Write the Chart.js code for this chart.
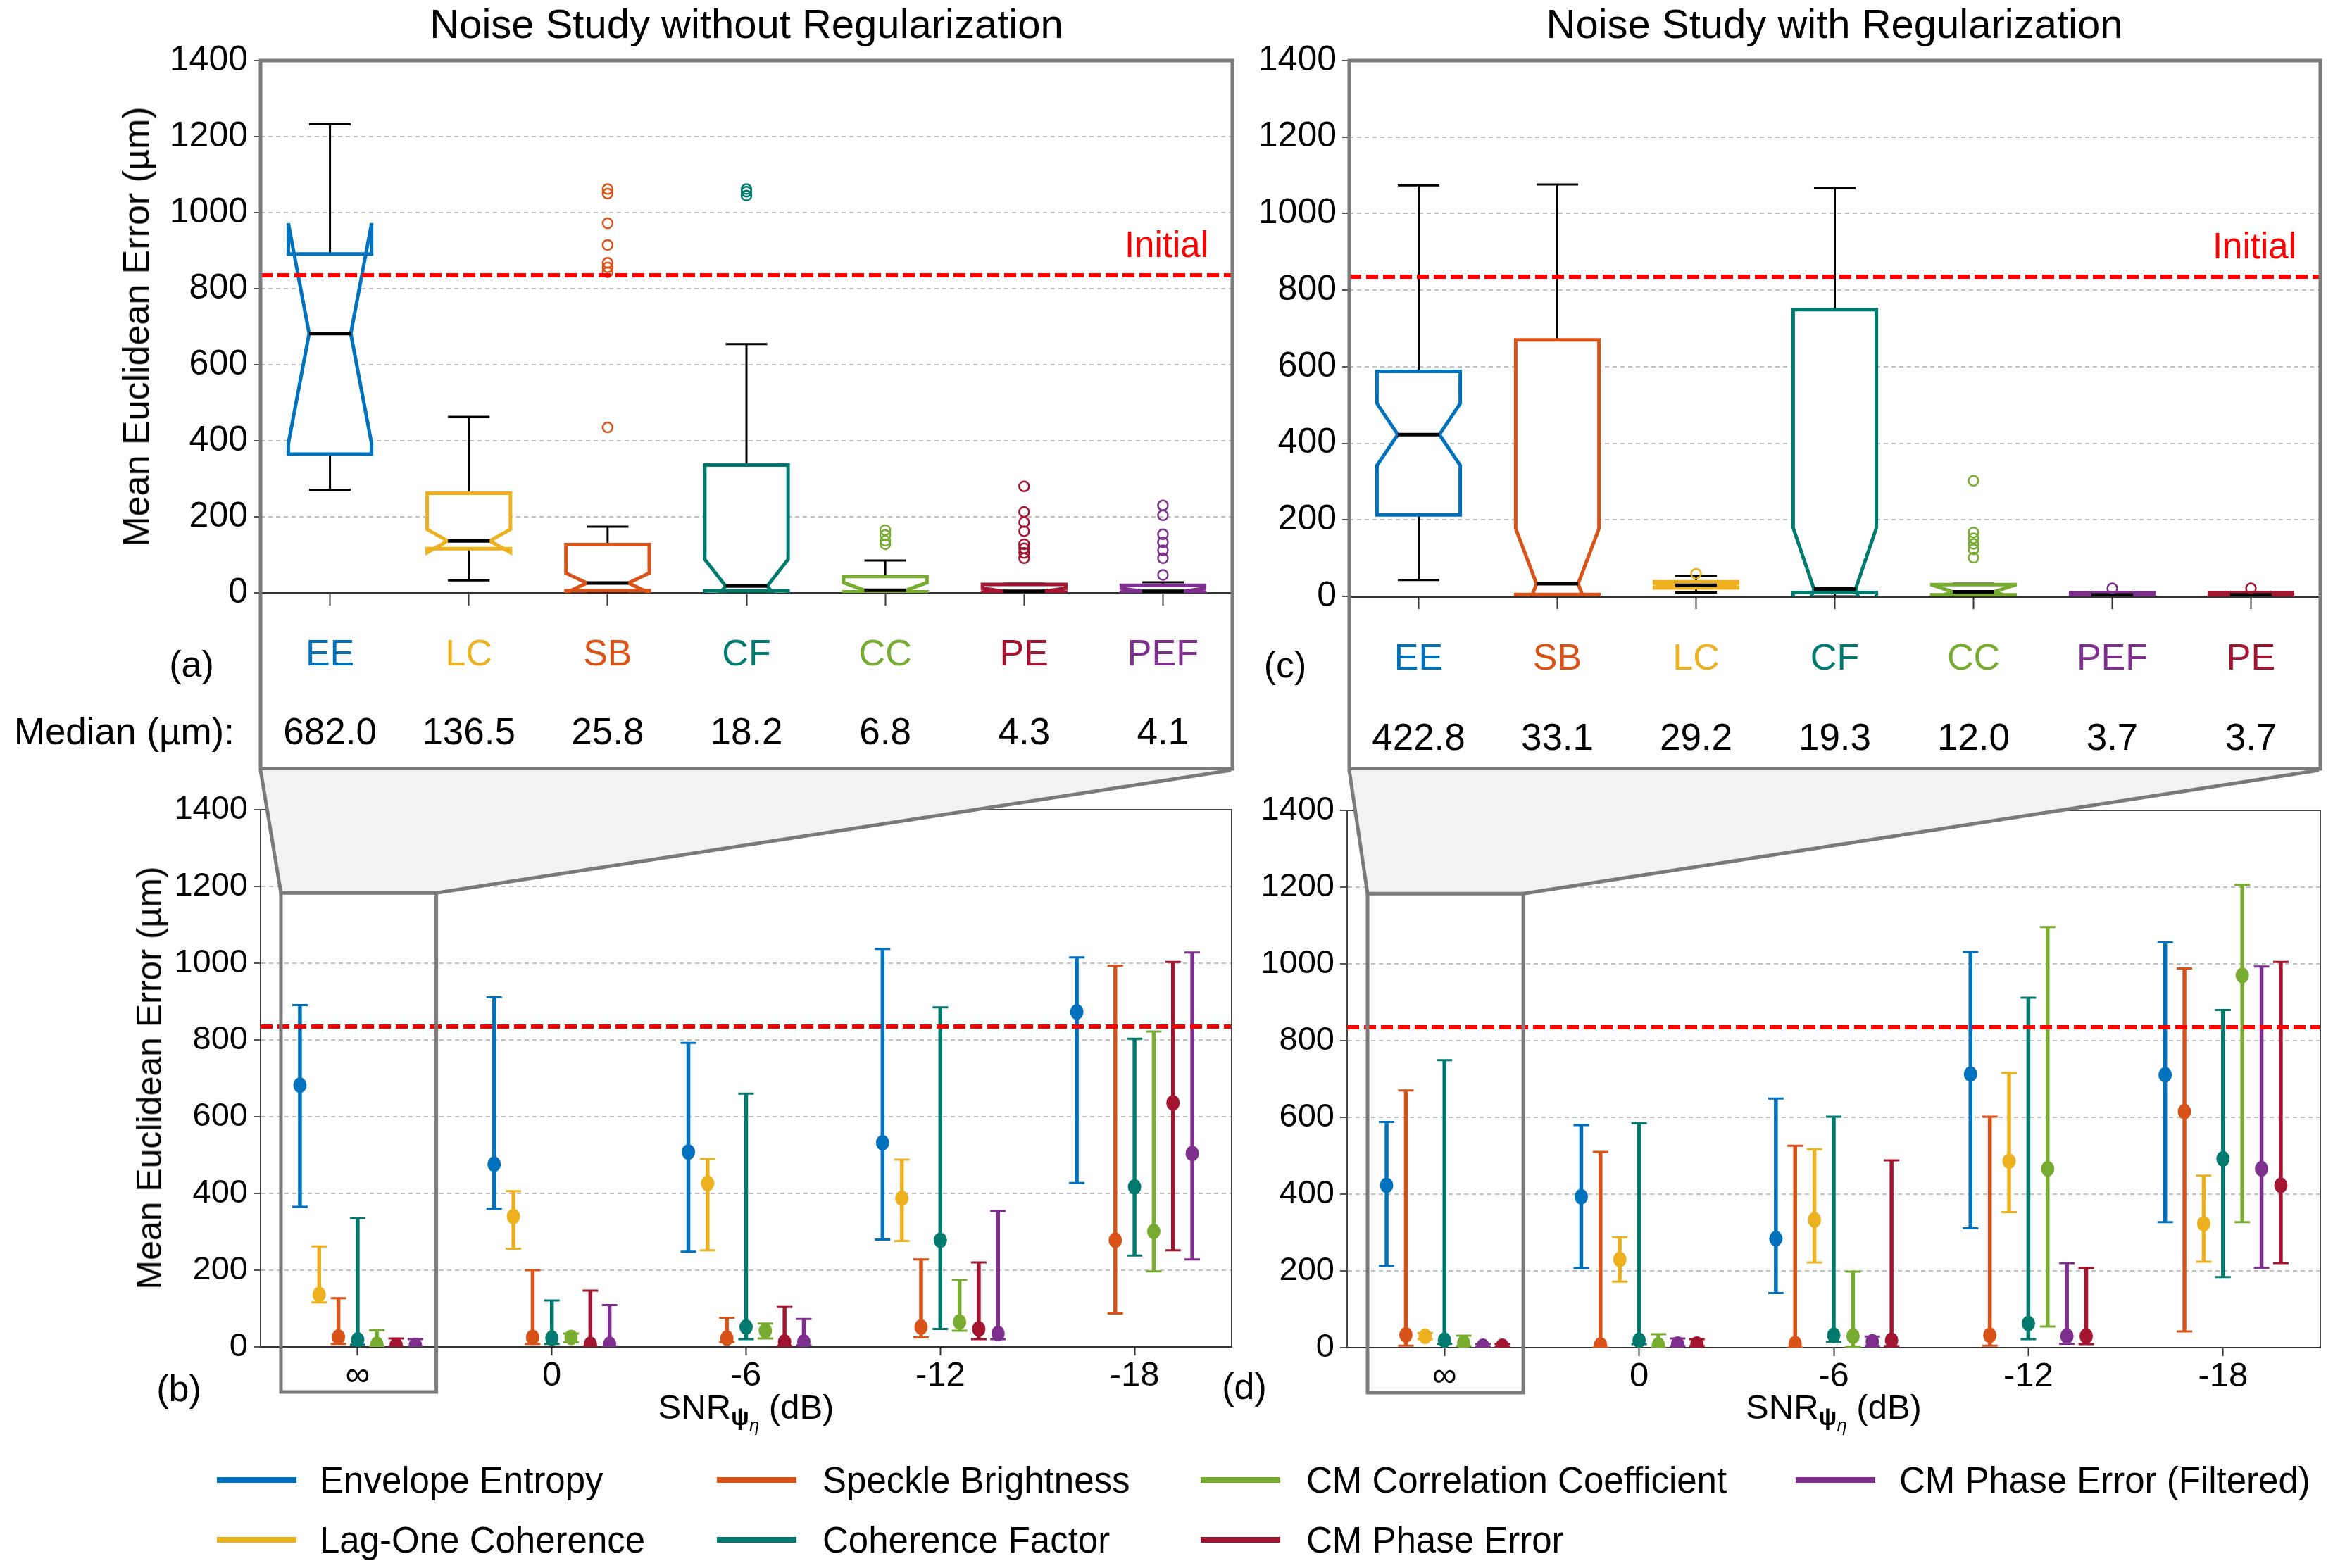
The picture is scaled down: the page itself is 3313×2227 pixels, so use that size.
<!DOCTYPE html>
<html>
<head>
<meta charset="utf-8">
<script src="https://cdn.jsdelivr.net/npm/chart.js"></script>
<style>
html,body{margin:0;padding:0;background:#fff;}
#root{position:relative;width:3313px;height:2227px;overflow:hidden;font-family:"Liberation Sans",Arial,Helvetica,sans-serif;color:#000;background:#fff;}
#root canvas{position:absolute;}
.t{position:absolute;white-space:nowrap;line-height:1;transform:translate(-50%,-50%);}
.r{position:absolute;white-space:nowrap;line-height:1;transform:translate(-100%,-50%);}
.l{position:absolute;white-space:nowrap;line-height:1;transform:translate(0,-50%);}
.rot{position:absolute;white-space:nowrap;line-height:1;transform:translate(-50%,-50%) rotate(-90deg);}
.sw{position:absolute;height:8px;transform:translate(0,-50%);}
</style>
</head>
<body>
<div id="root">
<canvas id="cA" width="1760" height="1100" style="left:0px;top:0px;width:1760px;height:1100px"></canvas>
<canvas id="cC" width="1553" height="1100" style="left:1760px;top:0px;width:1553px;height:1100px"></canvas>
<canvas id="cB" width="1760" height="1000" style="left:0px;top:1085px;width:1760px;height:1000px"></canvas>
<canvas id="cD" width="1553" height="1000" style="left:1760px;top:1085px;width:1553px;height:1000px"></canvas>
</div>
<script>
// ---------------- DATA ----------------
const seriesKeys   = ['EE','LC','SB','CF','CC','PE','PEF'];
const seriesNames  = ['Envelope Entropy','Lag-One Coherence','Speckle Brightness','Coherence Factor','CM Correlation Coefficient','CM Phase Error','CM Phase Error (Filtered)'];
const seriesColors = ['#0072BD','#EDB120','#D95319','#007A6E','#77AC30','#A2142F','#7E2F8E'];
const initialError = 835;
const snrLabels = ['\u221E','0','-6','-12','-18'];

// Panel (a): Noise study without regularization (box plots)
const orderA    = ['EE','LC','SB','CF','CC','PE','PEF'];
const medianA   = [682.0,136.5,25.8,18.2,6.8,4.3,4.1];
const q1A       = [365,116,6,5,3,2,2];
const q3A       = [891,262,127,336,43,22,20];
const notchLoA  = [392,106,0,-52,-13,-4,-4];
const notchHiA  = [972,167,52,88,27,12,12];
const whiskLoA  = [271,33,0,0,0,0,0];
const whiskHiA  = [1233,463,174,654,85,24,28];
const outliersA = [[],[],[435,843,856,868,915,972,1050,1062],[1045,1055,1062],[128,137,152,165],[91,105,117,128,162,186,213,280],[47,91,112,133,154,204,230]];

// Panel (c): Noise study with regularization (box plots)
const orderC    = ['EE','SB','LC','CF','CC','PEF','PE'];
const medianC   = [422.8,33.1,29.2,19.3,12.0,3.7,3.7];
const q1C       = [213,5,22,10,4,1,1];
const q3C       = [588,670,38,749,31,9,9];
const notchLoC  = [342,-111,24,-141,-6,0,0];
const notchHiC  = [504,177,34,179,30,8,8];
const whiskLoC  = [43,0,10,0,0,0,0];
const whiskHiC  = [1074,1076,54,1067,33,12,12];
const outliersC = [[],[],[59],[],[101,123,137,152,167,302],[21],[21]];

// Panel (b): median and IQR per SNR (rows follow seriesKeys)
const medB = [[682,476,508,532,873],[136.5,340,426,387,null],[25.8,25,23,52,278],[18.2,23,52,278,417],[6.8,25,42,65,301],[4.3,7,13,47,636],[4.1,7,13,35,504]];
const loB  = [[365,360,248,280,427],[116,256,252,276,null],[8,8,13,25,87],[6,8,20,47,238],[2,12,22,42,197],[1,1,3,20,252],[1,1,4,20,228]];
const hiB  = [[891,911,792,1037,1015],[262,406,490,488,null],[127,200,76,228,993],[336,121,660,885,803],[43,35,61,175,822],[22,147,104,220,1003],[20,109,73,354,1028]];

// Panel (d): median and IQR per SNR (rows follow seriesKeys)
const medD = [[422.8,393,284,713,711],[29.2,230,333,486,323],[33.1,7,10,32,615],[19.3,19,32,63,492],[12,7,30,466,970],[3.7,9,19,30,423],[3.7,9,15,30,466]];
const loD  = [[213,207,142,311,327],[22,172,222,353,224],[5,0,0,5,42],[10,9,15,22,184],[4,0,2,55,327],[1,4,4,9,220],[1,4,4,10,208]];
const hiD  = [[588,580,649,1031,1056],[38,287,517,716,448],[670,510,526,602,988],[749,585,602,912,880],[31,35,198,1096,1206],[9,22,488,207,1005],[9,24,29,220,993]];

// ---------------- LAYOUT ----------------
const geoA = {left:0,    top:0,    w:1760, h:1100, plotL:370,  plotR:1750, plotT:86,   plotB:842,  frameB:1092, labPad:39};
const geoC = {left:1760, top:0,    w:1553, h:1100, plotL:1916, plotR:3295, plotT:86,   plotB:847,  frameB:1092, labPad:40};
const geoB = {left:0,    top:1085, w:1760, h:1000, plotL:370,  plotR:1749, plotT:1150, plotB:1913};
const geoD = {left:1760, top:1085, w:1553, h:1000, plotL:1913, plotR:3295, plotT:1151, plotB:1914};

Chart.defaults.font.family = '"Liberation Sans", Arial, Helvetica, sans-serif';
Chart.defaults.color = '#000';
Chart.defaults.animation = false;

const root = document.getElementById('root');
function addText(cls, x, y, size, html, extra) {
  const d = document.createElement('div');
  d.className = cls;
  d.style.left = x + 'px'; d.style.top = y + 'px'; d.style.fontSize = size + 'px';
  if (extra) Object.assign(d.style, extra);
  d.innerHTML = html;
  root.appendChild(d);
  return d;
}
function colorOf(k) { return seriesColors[seriesKeys.indexOf(k)]; }

function yScaleOpts(fontSize, axisWidth) {
  return {
    min: 0, max: 1400,
    ticks: { stepSize: 200, font: { size: fontSize }, color: '#000', padding: 8, callback: v => String(v) },
    grid: { color: '#c2c2c2', lineWidth: 2, tickLength: 10, tickColor: '#555', tickWidth: 2 },
    border: { display: false, dash: [6, 5] },
    afterFit(s) { s.width = axisWidth; }
  };
}

function initialLine(chart) {
  const { ctx, chartArea: a, scales: { y } } = chart;
  const py = y.getPixelForValue(initialError);
  ctx.save();
  ctx.strokeStyle = '#FF0000'; ctx.lineWidth = 6; ctx.setLineDash([17, 7]);
  ctx.beginPath(); ctx.moveTo(a.left, py); ctx.lineTo(a.right, py); ctx.stroke();
  ctx.restore();
}

// ---------------- TOP (BOX PLOT) CHARTS ----------------
function makeTop(id, geo, order, med, q1, q3, nlo, nhi, wlo, whi, outl) {
  const colors = order.map(colorOf);
  const boxPlugin = {
    id: 'notchBoxes',
    beforeDatasetsDraw(chart) {
      const { ctx, chartArea: a, scales: { x, y } } = chart;
      const cw = x.getPixelForValue(1) - x.getPixelForValue(0);
      const w = 0.6 * cw;
      const Y = v => y.getPixelForValue(v);
      ctx.save();
      ctx.beginPath(); ctx.rect(a.left, a.top, a.right - a.left, a.bottom - a.top); ctx.clip();
      order.forEach((k, i) => {
        const px = x.getPixelForValue(i);
        const L = px - w / 2, R = px + w / 2, cl = px - w / 4, cr = px + w / 4;
        ctx.setLineDash([]);
        ctx.strokeStyle = '#000'; ctx.lineWidth = 3;
        ctx.beginPath();
        ctx.moveTo(px, Y(q3[i])); ctx.lineTo(px, Y(whi[i]));
        ctx.moveTo(px, Y(q1[i])); ctx.lineTo(px, Y(wlo[i]));
        ctx.moveTo(cl, Y(whi[i])); ctx.lineTo(cr, Y(whi[i]));
        ctx.moveTo(cl, Y(wlo[i])); ctx.lineTo(cr, Y(wlo[i]));
        ctx.stroke();
        const xs = [L, R, R, cr, R, R, L, L, cl, L, L];
        const ys = [q1[i], q1[i], nlo[i], med[i], nhi[i], q3[i], q3[i], nhi[i], med[i], nlo[i], q1[i]];
        ctx.fillStyle = '#fff';
        ctx.strokeStyle = colors[i]; ctx.lineWidth = 5; ctx.lineJoin = 'miter';
        ctx.beginPath();
        xs.forEach((xx, j) => { const yy = Y(ys[j]); if (j === 0) ctx.moveTo(xx, yy); else ctx.lineTo(xx, yy); });
        ctx.closePath();
        ctx.fill();
        ctx.stroke();
        ctx.strokeStyle = '#000'; ctx.lineWidth = 5;
        ctx.beginPath(); ctx.moveTo(cl, Y(med[i])); ctx.lineTo(cr, Y(med[i])); ctx.stroke();
      });
      ctx.restore();
    },
    afterDatasetsDraw(chart) { initialLine(chart); },
    afterDraw(chart) {
      const { ctx, chartArea: a } = chart;
      ctx.save();
      ctx.strokeStyle = '#7a7a7a'; ctx.lineWidth = 5; ctx.setLineDash([]);
      ctx.strokeRect(a.left, a.top, a.right - a.left, (geo.frameB - geo.top) - a.top);
      ctx.restore();
    }
  };
  const datasets = order.map((k, i) => ({
    label: k + ' outliers',
    showLine: false,
    data: outl[i].map(v => ({ x: k, y: v })),
    pointStyle: 'circle', pointRadius: 7, pointBorderWidth: 2.5,
    pointBackgroundColor: 'rgba(255,255,255,0)', pointBorderColor: colors[i], borderColor: colors[i]
  }));
  return new Chart(document.getElementById(id), {
    type: 'line',
    data: { labels: order, datasets },
    options: {
      responsive: false, animation: false,
      layout: { padding: { top: geo.plotT - geo.top, right: geo.w - (geo.plotR - geo.left), left: 0, bottom: 0 } },
      plugins: { legend: { display: false }, tooltip: { enabled: false } },
      scales: {
        x: {
          type: 'category', offset: true,
          ticks: { font: { size: 52 }, padding: geo.labPad, color: c => colors[c.index] },
          grid: { display: true, drawOnChartArea: false, offset: false, tickLength: 18, tickColor: '#333', tickWidth: 2 },
          border: { display: true, color: '#333', width: 3 },
          afterFit(s) { s.height = geo.h - (geo.plotB - geo.top); }
        },
        y: yScaleOpts(50, geo.plotL - geo.left)
      }
    },
    plugins: [boxPlugin]
  });
}

// ---------------- BOTTOM (MEDIAN + IQR) CHARTS ----------------
function makeBottom(id, geo, order, med, lo, hi, topGeo) {
  const idx = order.map(k => seriesKeys.indexOf(k));
  const datasets = idx.map(s => ({
    type: 'bar',
    label: seriesNames[s],
    data: snrLabels.map((_, j) => lo[s][j] == null ? null : [lo[s][j], hi[s][j]]),
    backgroundColor: seriesColors[s], borderWidth: 0,
    barPercentage: 0.2, categoryPercentage: 0.6934,
    medianValues: med[s]
  }));
  const errPlugin = {
    id: 'errMarks',
    afterDatasetsDraw(chart) {
      const { ctx, chartArea: a, scales: { y } } = chart;
      ctx.save();
      ctx.beginPath(); ctx.rect(a.left, a.top, a.right - a.left, a.bottom - a.top); ctx.clip();
      chart.data.datasets.forEach((ds, i) => {
        const meta = chart.getDatasetMeta(i);
        meta.data.forEach((el, j) => {
          const r = ds.data[j];
          if (!r) return;
          const x = el.x;
          ctx.strokeStyle = ds.backgroundColor; ctx.lineWidth = 3; ctx.setLineDash([]);
          ctx.beginPath();
          ctx.moveTo(x - 11, y.getPixelForValue(r[0])); ctx.lineTo(x + 11, y.getPixelForValue(r[0]));
          ctx.moveTo(x - 11, y.getPixelForValue(r[1])); ctx.lineTo(x + 11, y.getPixelForValue(r[1]));
          ctx.stroke();
          ctx.fillStyle = ds.backgroundColor;
          ctx.beginPath(); ctx.ellipse(x, y.getPixelForValue(ds.medianValues[j]), 9.5, 11, 0, 0, Math.PI * 2); ctx.fill();
        });
      });
      ctx.restore();
      initialLine(chart);
    },
    afterDraw(chart) {
      const { ctx, chartArea: a, scales: { x, y } } = chart;
      ctx.save();
      ctx.setLineDash([]);
      ctx.strokeStyle = '#444'; ctx.lineWidth = 2;
      ctx.beginPath(); ctx.moveTo(a.left, a.top); ctx.lineTo(a.right, a.top); ctx.lineTo(a.right, a.bottom); ctx.stroke();
      const cw = x.getPixelForValue(1) - x.getPixelForValue(0);
      const cx = x.getPixelForValue(0);
      const rl = cx - 0.395 * cw, rr = cx + 0.405 * cw;
      const rt = y.getPixelForValue(1183), rb = a.bottom + 64;
      const tl = topGeo.plotL - geo.left, tr = topGeo.plotR - 2 - geo.left, tt = topGeo.frameB + 2 - geo.top;
      ctx.fillStyle = '#f2f2f2';
      ctx.beginPath(); ctx.moveTo(tl, tt); ctx.lineTo(tr, tt); ctx.lineTo(rr, rt); ctx.lineTo(rl, rt); ctx.closePath(); ctx.fill();
      ctx.strokeStyle = '#7a7a7a'; ctx.lineWidth = 5;
      ctx.beginPath(); ctx.moveTo(tl, tt); ctx.lineTo(rl, rt); ctx.moveTo(tr, tt); ctx.lineTo(rr, rt); ctx.stroke();
      ctx.strokeRect(rl, rt, rr - rl, rb - rt);
      ctx.restore();
    }
  };
  const yo = yScaleOpts(47, geo.plotL - geo.left);
  yo.border = { display: true, color: '#444', width: 2, dash: [6, 5] };
  return new Chart(document.getElementById(id), {
    type: 'bar',
    data: { labels: snrLabels, datasets },
    options: {
      responsive: false, animation: false,
      layout: { padding: { top: geo.plotT - geo.top, right: geo.w - (geo.plotR - geo.left), left: 0, bottom: 0 } },
      plugins: { legend: { display: false }, tooltip: { enabled: false } },
      scales: {
        x: {
          type: 'category', offset: true,
          ticks: { font: { size: 49 }, padding: 0, color: '#000' },
          grid: { display: true, drawOnChartArea: false, offset: false, tickLength: 12, tickColor: '#333', tickWidth: 2 },
          border: { display: true, color: '#333', width: 2 },
          afterFit(s) { s.height = geo.h - (geo.plotB - geo.top); }
        },
        y: yo
      }
    },
    plugins: [errPlugin]
  });
}

const chartA = makeTop('cA', geoA, orderA, medianA, q1A, q3A, notchLoA, notchHiA, whiskLoA, whiskHiA, outliersA);
const chartC = makeTop('cC', geoC, orderC, medianC, q1C, q3C, notchLoC, notchHiC, whiskLoC, whiskHiC, outliersC);
const chartB = makeBottom('cB', geoB, seriesKeys, medB, loB, hiB, geoA);
const chartD = makeBottom('cD', geoD, orderC, medD, loD, hiD, geoC);

// ---------------- TEXT ----------------
addText('t', 1060, 34, 58, 'Noise Study without Regularization');
addText('t', 2605, 34, 58, 'Noise Study with Regularization');
addText('rot', 193, 464, 52, 'Mean Euclidean Error (\u00B5m)');
addText('rot', 212, 1531, 50, 'Mean Euclidean Error (\u00B5m)');
addText('t', 272, 943, 52, '(a)');
addText('t', 1825, 944, 52, '(c)');
addText('t', 254, 1972, 52, '(b)');
addText('t', 1767, 1969, 52, '(d)');
addText('r', 333, 1038, 53, 'Median (\u00B5m):');

function medianRow(chart, geo, med, yc) {
  med.forEach((m, i) => addText('t', chart.scales.x.getPixelForValue(i) + geo.left, yc, 53, m.toFixed(1)));
}
medianRow(chartA, geoA, medianA, 1038);
medianRow(chartC, geoC, medianC, 1046);

function initialLabel(chart, geo) {
  const yc = chart.scales.y.getPixelForValue(initialError) + geo.top - 44;
  addText('r', chart.chartArea.right + geo.left - 34, yc, 51, 'Initial', { color: '#FF0000' });
}
initialLabel(chartA, geoA);
initialLabel(chartC, geoC);

const snrHtml = 'SNR<sub style="font-size:0.7em;vertical-align:-0.25em;font-weight:bold">\u03C8<sub style="font-size:0.75em;font-style:italic;font-weight:normal;vertical-align:-0.35em">\u03B7</sub></sub> (dB)';
addText('t', (geoB.plotL + geoB.plotR) / 2, 2006, 49, snrHtml);
addText('t', (geoD.plotL + geoD.plotR) / 2, 2006, 49, snrHtml);

// ---------------- LEGEND ----------------
const legendSwatchX = [308, 1018, 1705, 2550];
const legendTextX = [454, 1168, 1855, 2697];
const legendRowY = [2102, 2187];
seriesKeys.forEach((k, i) => {
  const col = Math.floor(i / 2), row = i % 2;
  const sw = document.createElement('div');
  sw.className = 'sw';
  Object.assign(sw.style, { left: legendSwatchX[col] + 'px', top: legendRowY[row] + 'px', width: '113px', background: seriesColors[i] });
  root.appendChild(sw);
  addText('l', legendTextX[col], legendRowY[row], 51, seriesNames[i]);
});
</script>
</body>
</html>
